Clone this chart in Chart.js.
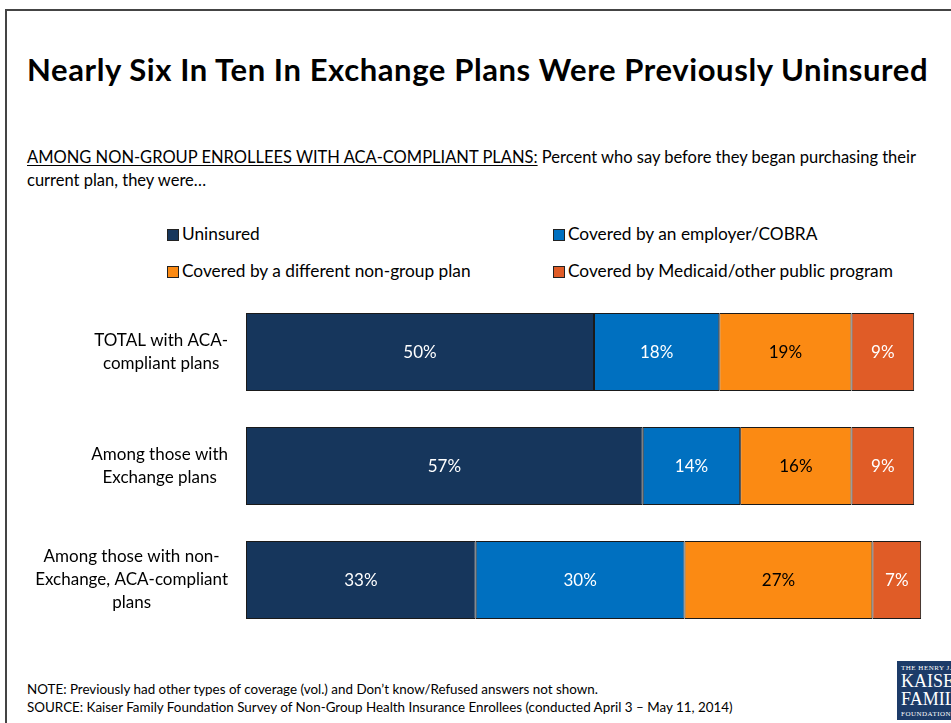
<!DOCTYPE html>
<html>
<head>
<meta charset="utf-8">
<script src="https://cdn.jsdelivr.net/npm/chart.js@4.4.1/dist/chart.umd.min.js"></script>
<style>
  body { margin: 0; width: 951px; height: 723px; overflow: hidden; background: #fff; font-family: Lato, "Open Sans", sans-serif; color: #000; position: relative; }
  .frame { position: absolute; left: 5px; top: 9px; width: 1000px; height: 800px; border-left: 2px solid #444; border-top: 2px solid #444; }
  .title { position: absolute; left: 27px; top: 50px; font-size: 31px; letter-spacing: 0.6px; font-weight: 700; white-space: nowrap; }
  .sub { position: absolute; left: 27px; top: 146px; font-size: 16.5px; line-height: 23px; width: 910px; }
  .sub u { text-underline-offset: 2px; }
  .legend { position: absolute; left: 0; top: 0; font-size: 17.3px; }
  .legend div { position: absolute; white-space: nowrap; }
  .legend span.box { display: inline-block; width: 10px; height: 10px; border: 1px solid #222; margin-right: 3px; vertical-align: -1px; }
  #wrap { position: absolute; left: 0; top: 295px; width: 951px; height: 342px; }
  .foot { position: absolute; left: 27px; top: 680px; font-size: 13.4px; line-height: 18px; white-space: nowrap; }
  .logo { position: absolute; left: 897px; top: 661px; width: 80px; height: 59px; background: #1c3b68; color: #fff; font-family: "Liberation Serif", "DejaVu Serif", serif; line-height: 1; padding-left: 4px; box-sizing: border-box; overflow: hidden; }
  .logo .s { font-size: 7px; letter-spacing: 0.5px; margin-top: 4px; }
  .logo .b { font-size: 18px; }
</style>
</head>
<body>
<div class="frame"></div>
<div class="title">Nearly Six In Ten In Exchange Plans Were Previously Uninsured</div>
<div class="sub"><u>AMONG NON-GROUP ENROLLEES WITH ACA-COMPLIANT PLANS:</u> Percent who say before they began purchasing their current plan, they were…</div>
<div class="legend" id="legend"></div>
<div id="wrap"><canvas id="chart" width="951" height="342"></canvas></div>
<div class="foot">NOTE: Previously had other types of coverage (vol.) and Don’t know/Refused answers not shown.<br>SOURCE: Kaiser Family Foundation Survey of Non-Group Health Insurance Enrollees (conducted April 3 – May 11, 2014)</div>
<div class="logo"><div class="s">THE HENRY J.</div><div class="b">KAISER</div><div class="b">FAMILY</div><div class="s" style="margin-top:3px">FOUNDATION</div></div>

<script>
// categories (one bar each)
const groups = [
  ['TOTAL with ACA-', 'compliant plans'],
  ['Among those with', 'Exchange plans'],
  ['Among those with non-', 'Exchange, ACA-compliant', 'plans']
];

// coverage before current plan, percent
const seriesNames = [
  'Uninsured',
  'Covered by an employer/COBRA',
  'Covered by a different non-group plan',
  'Covered by Medicaid/other public program'
];
const uninsured = [50, 57, 33];
const employer = [18, 14, 30];
const otherNonGroup = [19, 16, 27];
const medicaid = [9, 9, 7];

const seriesColors = ['#16365c', '#0070c0', '#fb8a13', '#e05c27'];
const labelColors = ['#fff', '#fff', '#000', '#fff'];

// legend, two columns
const legendPos = [[167, 223], [553, 223], [167, 260], [553, 260]];
const legendEl = document.getElementById('legend');
seriesNames.forEach((name, i) => {
  const d = document.createElement('div');
  d.style.left = legendPos[i][0] + 'px';
  d.style.top = legendPos[i][1] + 'px';
  d.innerHTML = '<span class="box" style="background:' + seriesColors[i] + '"></span>' + name;
  legendEl.appendChild(d);
});

// percent labels inside every segment
const valueLabels = {
  id: 'valueLabels',
  afterDatasetsDraw(chart) {
    const ctx = chart.ctx;
    ctx.save();
    ctx.font = '17px Lato, "Open Sans", sans-serif';
    ctx.textAlign = 'center';
    ctx.textBaseline = 'middle';
    chart.data.datasets.forEach((ds, i) => {
      chart.getDatasetMeta(i).data.forEach((bar, j) => {
        const p = bar.getProps(['x', 'base', 'y'], true);
        ctx.fillStyle = labelColors[i];
        ctx.fillText(ds.data[j] + '%', (p.x + p.base) / 2, p.y + 1);
      });
    });
    ctx.restore();
  }
};

// category labels: each block centred on itself, right edge near the bars
const groupLabels = {
  id: 'groupLabels',
  afterDraw(chart) {
    const ctx = chart.ctx;
    const yScale = chart.scales.y;
    const lineH = 23;
    ctx.save();
    ctx.font = '17px Lato, "Open Sans", sans-serif';
    ctx.fillStyle = '#000';
    ctx.textAlign = 'center';
    ctx.textBaseline = 'middle';
    groups.forEach((lines, i) => {
      const w = Math.max(...lines.map(l => ctx.measureText(l).width));
      const cx = 228 - w / 2;
      const cy = yScale.getPixelForTick(i);
      lines.forEach((l, k) => {
        ctx.fillText(l, cx, cy + (k - (lines.length - 1) / 2) * lineH);
      });
    });
    ctx.restore();
  }
};

const allSeries = [uninsured, employer, otherNonGroup, medicaid];

new Chart(document.getElementById('chart'), {
  type: 'bar',
  data: {
    labels: groups,
    datasets: allSeries.map((vals, i) => ({
      label: seriesNames[i],
      data: vals,
      backgroundColor: seriesColors[i],
      borderColor: '#1a1a1a',
      borderWidth: 1,
      borderSkipped: false,
      categoryPercentage: 1,
      barPercentage: 0.684
    }))
  },
  options: {
    indexAxis: 'y',
    responsive: false,
    animation: false,
    layout: { padding: { left: 0, right: 9, top: 0, bottom: 0 } },
    scales: {
      x: {
        stacked: true,
        min: 0,
        max: 100,
        display: false
      },
      y: {
        stacked: true,
        grid: { display: false },
        border: { display: false },
        ticks: { display: false },
        afterFit(scale) { scale.width = 246; }
      }
    },
    plugins: {
      legend: { display: false },
      tooltip: { enabled: false }
    }
  },
  plugins: [valueLabels, groupLabels]
});
</script>
</body>
</html>
